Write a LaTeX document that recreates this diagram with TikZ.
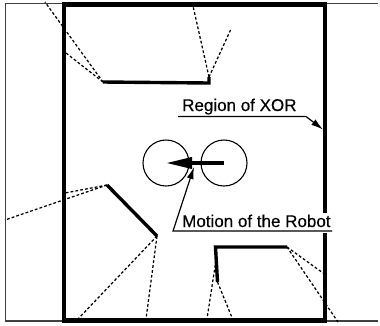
\documentclass[tikz,border=0pt]{standalone}
\usepackage{fontspec}
\setmainfont[FakeBold=0.35]{Liberation Sans}
\usetikzlibrary{arrows.meta}
\tikzset{
  wall/.style={line width=4.6pt,line cap=rect,black},
  frame/.style={line width=1.1pt,black!75},
  obst/.style={line width=3.4pt,black},
  sight/.style={line width=1.25pt,dash pattern=on 2.8pt off 2.1pt,black},
  thinl/.style={line width=1.2pt,black},
  lab/.style={inner sep=0pt,anchor=base west,font=\fontsize{17}{17}\selectfont,text=black},
  robot/.style={circle,draw,line width=1.1pt,black,minimum size=46pt,inner sep=0pt}
}
\begin{document}
\begin{tikzpicture}[x=1pt,y=-1pt]
\useasboundingbox (0,0) rectangle (380,325);
% thin frame
\draw[frame] (378,3.5) -- (5.5,3.5) -- (5.5,321) -- (378,321);
% sight lines
\coordinate (a1) at (103,82); \coordinate (a2) at (209,83); \coordinate (a3) at (209,77);
\coordinate (b1) at (107,185); \coordinate (b2) at (157,236);
\coordinate (c1) at (215.5,247); \coordinate (c2) at (287,247); \coordinate (c3) at (217.5,282); \coordinate (c4) at (216,260);
\draw[sight] (a1) -- (45,2);
\draw[sight] (a1) -- (66,53);
\draw[sight] (a3) -- (193,6);
\draw[sight] (a3) -- (231,29);
\draw[sight] (b1) -- (5,220);
\draw[sight] (b1) -- (65,193);
\draw[sight] (b2) -- (78,319);
\draw[sight] (b2) -- (146,319);
\draw[sight] (c2) -- (323,273);
\draw[sight] (c2) -- (338,322);
\draw[sight] (c4) -- (207,319);
\draw[sight] (c3) -- (233,320);
% obstacles
\draw[obst] (a1) -- (a2) -- (a3);
\draw[obst] (b1) -- (b2);
\draw[obst] (c2) -- (c1) -- (c3);
% walls
\draw[wall] (64,4.5) rectangle (325,320.5);
\fill[white] (320,213) rectangle (330,233);
% robot
\node[robot] (r1) at (166,163) {};
\node[robot] (r2) at (224,163) {};
\draw[line width=3.6pt,-{Triangle[length=26pt,width=11pt]},black] (r2.center) -- (r1.center);
% labels
\node[lab] (xor) at (182,111) {Region of XOR};
\node[lab] (mot) at (182,227) {Motion of the Robot};
\coordinate (x0) at (178,116.5); \coordinate (x1) at (306,116.5); \coordinate (x2) at (323,129.5);
\coordinate (m0) at (332,231); \coordinate (m1) at (173,231); \coordinate (m2) at (194,167);
\draw[thinl,-{Latex[length=12pt,width=7pt]}] (x0) -- (x1) -- (x2);
\draw[thinl,-{Latex[length=12pt,width=7pt]}] (m0) -- (m1) -- (m2);
\end{tikzpicture}
\end{document}
